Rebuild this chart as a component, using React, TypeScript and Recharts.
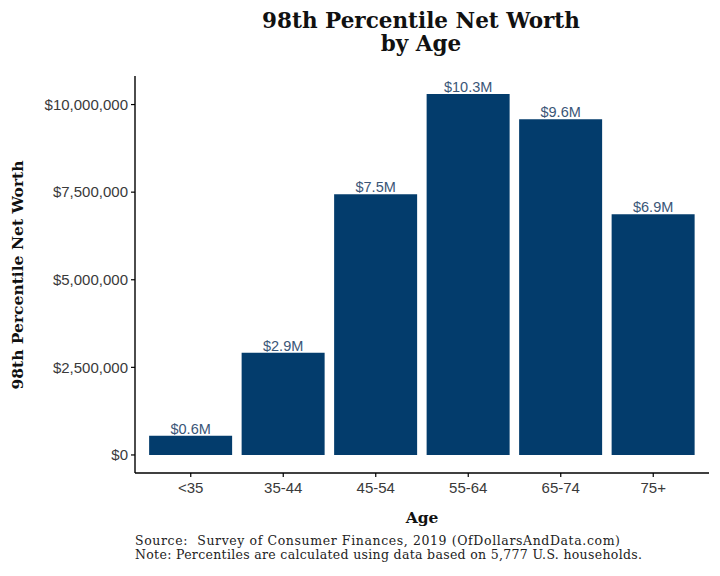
import { BarChart, Bar, XAxis, YAxis, LabelList } from "recharts";

const ages = ["<35", "35-44", "45-54", "55-64", "65-74", "75+"];
const netWorth = [550000, 2920000, 7440000, 10300000, 9580000, 6870000];
const valueLabels = ["$0.6M", "$2.9M", "$7.5M", "$10.3M", "$9.6M", "$6.9M"];
const yTicks = [0, 2500000, 5000000, 7500000, 10000000];

const data = ages.map((age, i) => ({ age, value: netWorth[i], label: valueLabels[i] }));

const sans = "'Liberation Sans', Arial, sans-serif";
const serif = "'DejaVu Serif', serif";

export default function App() {
  return (
    <div style={{ position: "relative", width: 720, height: 576, background: "#fff" }}>
      <style>{"body{margin:0}"}</style>
      <BarChart
        width={720}
        height={576}
        data={data}
        margin={{ top: 76, right: 11, bottom: 0, left: 0 }}
        barCategoryGap="5%"
      >
        <XAxis
          dataKey="age"
          height={103}
          padding={{ left: 9.5, right: 9.5 }}
          tick={{ fill: "#3a3a3a", fontSize: 15, fontFamily: sans }}
          tickSize={4}
          tickMargin={5}
          axisLine={{ stroke: "#000", strokeWidth: 1.4 }}
          tickLine={{ stroke: "#000", strokeWidth: 1.2 }}
        />
        <YAxis
          width={135}
          domain={[-515000, 10815000]}
          ticks={yTicks}
          tickFormatter={v => "$" + Number(v).toLocaleString("en-US")}
          tick={{ fill: "#3a3a3a", fontSize: 15, fontFamily: sans }}
          tickSize={4}
          tickMargin={3}
          axisLine={{ stroke: "#000", strokeWidth: 1.4 }}
          tickLine={{ stroke: "#000", strokeWidth: 1.2 }}
        />
        <Bar dataKey="value" fill="#033c6c" isAnimationActive={false}>
          <LabelList
            dataKey="label"
            position="top"
            offset={2}
            fill="#3a5677"
            fontSize={14.5}
            fontFamily={sans}
          />
        </Bar>
      </BarChart>
      <svg
        width={720}
        height={576}
        style={{ position: "absolute", left: 0, top: 0, pointerEvents: "none" }}
      >
        <text x={421} y={28} textAnchor="middle" fontFamily={serif} fontWeight="bold" fontSize={21.5} fill="#111">
          98th Percentile Net Worth
        </text>
        <text x={421} y={51} textAnchor="middle" fontFamily={serif} fontWeight="bold" fontSize={21.5} fill="#111">
          by Age
        </text>
        <text
          transform="translate(23,275) rotate(-90)"
          textAnchor="middle"
          fontFamily={serif}
          fontWeight="bold"
          fontSize={15.5}
          fill="#111"
        >
          98th Percentile Net Worth
        </text>
        <text x={422} y={523} textAnchor="middle" fontFamily={serif} fontWeight="bold" fontSize={15.5} fill="#111">
          Age
        </text>
        <text
          x={135}
          y={545}
          fontFamily={serif}
          fontSize={12.5}
          fill="#222"
          textLength={485}
          lengthAdjust="spacing"
          style={{ whiteSpace: "pre" }}
        >
          {"Source:  Survey of Consumer Finances, 2019 (OfDollarsAndData.com)"}
        </text>
        <text x={135} y={559} fontFamily={serif} fontSize={12.5} fill="#222" textLength={507} lengthAdjust="spacing">
          Note: Percentiles are calculated using data based on 5,777 U.S. households.
        </text>
      </svg>
    </div>
  );
}
